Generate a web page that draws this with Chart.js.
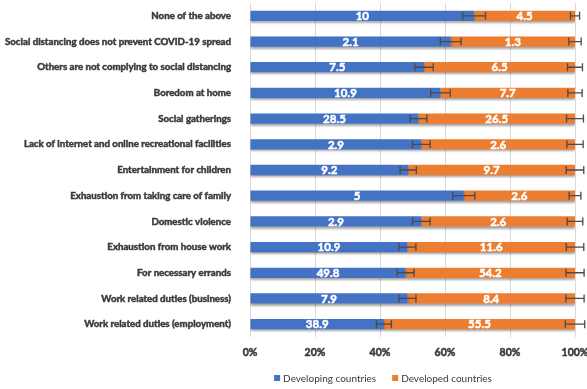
<!DOCTYPE html>
<html>
<head>
<meta charset="utf-8">
<script src="https://cdn.jsdelivr.net/npm/chart.js@4/dist/chart.umd.min.js"></script>
<style>
  html, body { margin:0; padding:0; background:#fff; }
  #wrap { width:587px; height:389px; position:relative; }
</style>
</head>
<body>
<div id="wrap"><canvas id="reasons"></canvas></div>
<script>
// reasons for leaving home, top to bottom
const categories = [
    'None of the above',
    'Social distancing does not prevent COVID-19 spread',
    'Others are not complying to social distancing',
    'Boredom at home',
    'Social gatherings',
    'Lack of internet and online recreational facilities',
    'Entertainment for children',
    'Exhaustion from taking care of family',
    'Domestic violence',
    'Exhaustion from house work',
    'For necessary errands',
    'Work related duties (business)',
    'Work related duties (employment)'
];
const developing = [10, 2.1, 7.5, 10.9, 28.5, 2.9, 9.2, 5, 2.9, 10.9, 49.8, 7.9, 38.9];
const developed  = [4.5, 1.3, 6.5, 7.7, 26.5, 2.6, 9.7, 2.6, 2.6, 11.6, 54.2, 8.4, 55.5];
// error half-widths, in percent of the stacked bar
const developingErr = [3.5, 3.2, 2.8, 3.0, 2.6, 2.7, 2.5, 3.4, 2.7, 2.6, 2.6, 2.6, 2.3];
const developedErr  = [1.4, 1.9, 2.3, 2.2, 2.6, 2.5, 2.7, 1.8, 2.4, 2.7, 2.8, 2.8, 3.0];
const xTicks = [0, 20, 40, 60, 80, 100];

const BLUE = '#4472C4', ORANGE = '#ED7D31', INK = '#3a3a3a';
const FONT = 'Lato, "Liberation Sans", Arial, sans-serif';

// each row is shown as a share of developing + developed
const share = (a, b) => a.map((v, i) => v / (v + b[i]) * 100);
const devShare = share(developing, developed);
const dedShare = share(developed, developing);

const barDecor = {
    id: 'barDecor',
    beforeDatasetsDraw(chart) {
        const ctx = chart.ctx;
        ctx.save();
        ctx.shadowColor = 'rgba(0,0,0,0.35)';
        ctx.shadowOffsetY = 2;
        ctx.shadowBlur = 2;
    },
    afterDatasetsDraw(chart) {
        const ctx = chart.ctx;
        ctx.restore();
        const xs = chart.scales.x;
        const m0 = chart.getDatasetMeta(0), m1 = chart.getDatasetMeta(1);

        // error whiskers at the split and at the end of each bar
        ctx.save();
        ctx.strokeStyle = '#4a4a4a';
        ctx.lineWidth = 1.3;
        const whisker = (c, e, y) => {
            const l = xs.getPixelForValue(c - e), r = xs.getPixelForValue(c + e);
            ctx.beginPath();
            ctx.moveTo(l, y); ctx.lineTo(r, y);
            ctx.moveTo(l, y - 4); ctx.lineTo(l, y + 4);
            ctx.moveTo(r, y - 4); ctx.lineTo(r, y + 4);
            ctx.stroke();
        };
        categories.forEach((c, i) => {
            const y = m0.data[i].y;
            whisker(devShare[i], developingErr[i], y);
            whisker(100, developedErr[i], y);
        });
        ctx.restore();

        // raw values written inside each segment
        ctx.save();
        ctx.fillStyle = '#ffffff';
        ctx.strokeStyle = '#ffffff';
        ctx.lineWidth = 0.5;
        ctx.font = 'bold 11.5px ' + FONT;
        ctx.textAlign = 'center';
        ctx.textBaseline = 'middle';
        const put = (t, x, y) => { ctx.strokeText(t, x, y); ctx.fillText(t, x, y); };
        categories.forEach((c, i) => {
            const a = m0.data[i], b = m1.data[i];
            put(String(developing[i]), (a.base + a.x) / 2, a.y + 0.5);
            put(String(developed[i]), (b.base + b.x) / 2, b.y + 0.5);
        });
        ctx.restore();
    },
    // legend row under the axis, centred a little left of the plot
    afterDraw(chart) {
        const ctx = chart.ctx;
        ctx.save();
        ctx.font = '10px ' + FONT;
        ctx.textBaseline = 'middle';
        const items = chart.data.datasets.map(d => ({ text: d.label, color: d.backgroundColor, w: ctx.measureText(d.label).width }));
        const box = 6, gap = 3, sep = 16, y = 378;
        const total = items.reduce((s, it) => s + box + gap + it.w, 0) + sep * (items.length - 1);
        let x = 383 - total / 2;
        items.forEach(it => {
            ctx.fillStyle = it.color;
            ctx.fillRect(x, y - box / 2, box, box);
            ctx.fillStyle = INK;
            ctx.fillText(it.text, x + box + gap, y + 0.5);
            x += box + gap + it.w + sep;
        });
        ctx.restore();
    }
};

new Chart(document.getElementById('reasons'), {
    type: 'bar',
    data: {
        labels: categories,
        datasets: [
            { label: 'Developing countries', data: devShare, backgroundColor: BLUE },
            { label: 'Developed countries',  data: dedShare, backgroundColor: ORANGE }
        ]
    },
    options: {
        indexAxis: 'y',
        responsive: true,
        maintainAspectRatio: false,
        animation: false,
        layout: { padding: { top: 3, right: 12, left: 4, bottom: 24 } },
        datasets: { bar: { barPercentage: 0.4, categoryPercentage: 1, borderWidth: 0 } },
        plugins: {
            tooltip: { enabled: false },
            legend: { display: false }
        },
        scales: {
            x: {
                stacked: true, min: 0, max: 100,
                afterBuildTicks: s => { s.ticks = xTicks.map(v => ({ value: v })); },
                afterFit: s => { s.height = 28; s.paddingLeft = 0; s.paddingRight = 0; },
                ticks: { callback: v => v + '%', color: INK, padding: 9,
                         textStrokeColor: INK, textStrokeWidth: 0.5,
                         font: { family: FONT, size: 10.5, weight: 'bold' } },
                grid: { color: '#d9d9d9', drawTicks: false },
                border: { display: false }
            },
            y: {
                stacked: true,
                afterFit: s => { s.width = 246; s.paddingTop = 0; s.paddingBottom = 0; },
                ticks: { color: INK, padding: 11, autoSkip: false,
                         textStrokeColor: INK, textStrokeWidth: 0.5,
                         font: { family: FONT, size: 9.7, weight: 'bold' } },
                grid: { display: false },
                border: { display: false }
            }
        }
    },
    plugins: [barDecor]
});
</script>
</body>
</html>
